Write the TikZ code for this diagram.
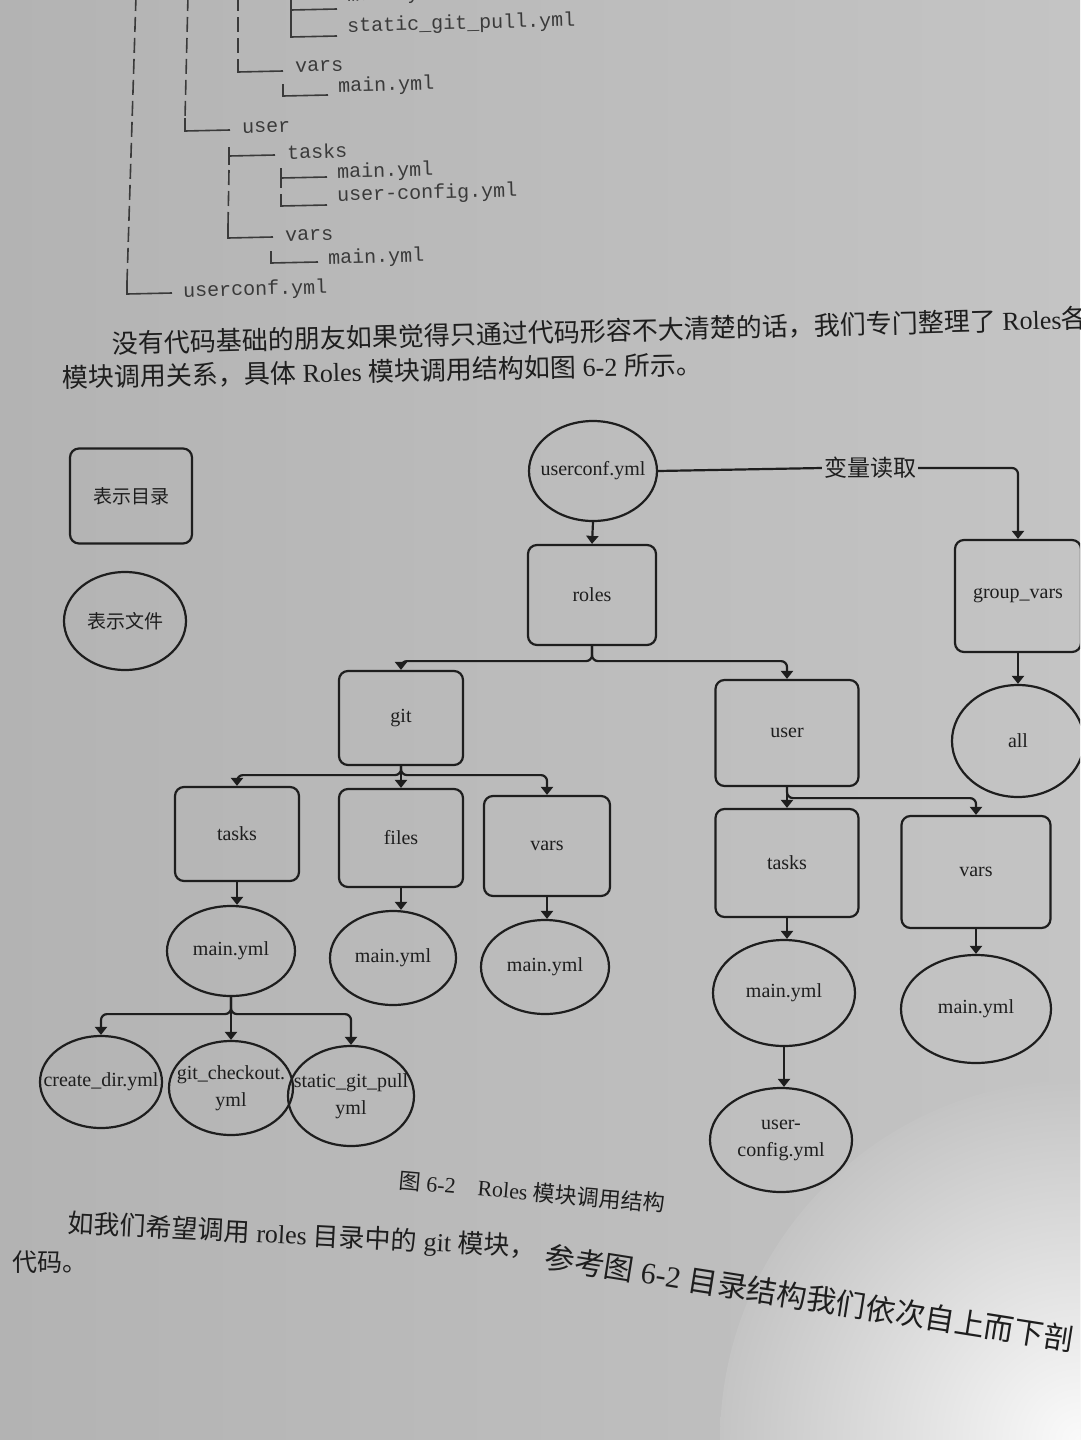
\documentclass[tikz,border=0pt]{standalone}
\usepackage{fontspec}
\setmainfont{Liberation Serif}
\setmonofont{Liberation Mono}
\newfontfamily\cjk{Noto Sans CJK SC}
\usetikzlibrary{shapes.geometric,arrows.meta}
\definecolor{paperL}{HTML}{B3B3B3}
\definecolor{paperR}{HTML}{C4C4C4}
\definecolor{ink}{HTML}{1E1E1E}
\definecolor{treeink}{HTML}{3A3A3A}
\newcommand\zb[1]{\makebox[0pt][c]{#1}}
\newcommand\lblfont{\fontsize{20}{27}\selectfont}
\begin{document}
\begin{tikzpicture}[x=1pt,y=-1pt,
  dirbox/.style={draw=ink,line width=2.2pt,rounded corners=9pt,inner sep=0pt,font=\lblfont,text=ink},
  filebox/.style={ellipse,draw=ink,line width=2.2pt,inner sep=0pt,font=\lblfont,text=ink,align=center},
  sz/.style 2 args={minimum width=#1,minimum height=#2},
  conn/.style={draw=ink,line width=2.2pt,rounded corners=6pt},
  arr/.style={conn,-{Triangle[width=12pt,length=8pt]}},
  treeln/.style={draw=treeink,line width=1.6pt},
  treedash/.style={treeln,dash pattern=on 15pt off 6pt},
  treetxt/.style={anchor=west,font=\ttfamily\fontsize{20}{20}\selectfont,text=treeink,inner sep=0pt,rotate=1.5},
  body/.style={anchor=west,inner sep=0pt,text=ink,font=\fontsize{26}{26}\selectfont},
  zhlbl/.style={font=\cjk\fontsize{19}{19}\selectfont,text=ink}
]
\useasboundingbox (0,0) rectangle (1080,1440);
\clip (0,0) rectangle (1080,1440);
\shade[left color=paperL,right color=paperR] (0,0) rectangle (1080,1440);
\shade[inner color=white!92!paperR,outer color=paperR] (1080,1440) circle (360);

% ---------- directory tree (top) ----------
\draw[treedash] (136,-4) -- (127,282);
\draw[treeln] (127,282) -- (127,294) -- (172,293);
\draw[treedash] (188,-4) -- (185,118);
\draw[treeln] (185,118) -- (185,131) -- (230,130);
\draw[treedash] (238,-4) -- (238,60);
\draw[treeln] (238,60) -- (238,72) -- (283,71);
\draw[treeln] (291,-5) -- (291,37) -- (337,36);
\draw[treeln] (291,10) -- (337,9);
\draw[treeln] (283,84) -- (283,96) -- (328,95);
\draw[treeln] (229,147) -- (229,165);
\draw[treeln] (229,156) -- (275,155);
\draw[treedash] (229,170) -- (228,226);
\draw[treeln] (228,226) -- (228,238) -- (273,237);
\draw[treeln] (281,168) -- (281,188);
\draw[treeln] (281,178) -- (327,177);
\draw[treeln] (281,194) -- (281,206) -- (327,205);
\draw[treeln] (271,251) -- (271,263) -- (318,262);
\node[treetxt] (t1) at (347,-4) {main.yml};
\node[treetxt] (t2) at (347,27) {static\_git\_pull.yml};
\node[treetxt] (t3) at (295,67) {vars};
\node[treetxt] (t4) at (338,87) {main.yml};
\node[treetxt] (t5) at (242,128) {user};
\node[treetxt] (t6) at (287,152) {tasks};
\node[treetxt] (t7) at (337,173) {main.yml};
\node[treetxt] (t8) at (337,196) {user-config.yml};
\node[treetxt] (t9) at (285,236) {vars};
\node[treetxt] (t10) at (328,259) {main.yml};
\node[treetxt] (t11) at (183,292) {userconf.yml};

% ---------- paragraph ----------
\node[body,rotate=1.5] (p1) at (112,344) {{\cjk 没有代码基础的朋友如果觉得只通过代码形容不大清楚的话，我们专门整理了} Roles{\cjk 各}};
\node[body,rotate=1.2] (p2) at (62,378) {{\cjk 模块调用关系，具体} Roles {\cjk 模块调用结构如图} 6-2 {\cjk 所示。}};

% ---------- legend ----------
\node[dirbox,sz={122pt}{95pt},zhlbl] (lgdir) at (131,496) {表示目录};
\node[filebox,sz={122pt}{98pt},zhlbl] (lgfile) at (125,621) {表示文件};

% ---------- diagram nodes ----------
\node[filebox,sz={128pt}{100pt}] (uc) at (593,471) {\zb{userconf.yml}};
\node[dirbox,sz={128pt}{100pt}] (roles) at (592,595) {roles};
\node[font=\cjk\fontsize{23}{23}\selectfont,text=ink,inner sep=2pt] (vlbl) at (870,468) {变量读取};
\node[dirbox,sz={126pt}{112pt}] (gv) at (1018,596) {group\_vars};
\node[filebox,sz={132pt}{112pt}] (all) at (1018,741) {all};

\node[dirbox,sz={124pt}{94pt}] (git) at (401,718) {git};
\node[dirbox,sz={143pt}{106pt}] (user) at (787,733) {user};

\node[dirbox,sz={124pt}{94pt}] (gtasks) at (237,834) {tasks};
\node[dirbox,sz={124pt}{98pt}] (gfiles) at (401,838) {files};
\node[dirbox,sz={126pt}{100pt}] (gvars) at (547,846) {vars};

\node[filebox,sz={128pt}{90pt}] (gtmain) at (231,951) {main.yml};
\node[filebox,sz={126pt}{94pt}] (gfmain) at (393,958) {main.yml};
\node[filebox,sz={128pt}{94pt}] (gvmain) at (545,967) {main.yml};

\node[filebox,sz={122pt}{92pt}] (cdir) at (101,1082) {\zb{create\_dir.yml}};
\node[filebox,sz={124pt}{94pt}] (gco) at (231,1088) {\zb{git\_checkout.}\\\zb{yml}};
\node[filebox,sz={126pt}{100pt}] (sgp) at (351,1096) {\zb{static\_git\_pull}\\\zb{yml}};

\node[dirbox,sz={143pt}{108pt}] (utasks) at (787,863) {tasks};
\node[dirbox,sz={149pt}{112pt}] (uvars) at (976,872) {vars};
\node[filebox,sz={142pt}{106pt}] (utmain) at (784,993) {main.yml};
\node[filebox,sz={150pt}{108pt}] (uvmain) at (976,1009) {main.yml};
\node[filebox,sz={142pt}{104pt}] (ucfg) at (781,1140) {\zb{user-}\\\zb{config.yml}};

% ---------- connectors ----------
\draw[arr] (uc.south) -- (roles.north);
\draw[conn] (uc.east) -- (vlbl.west);
\draw[arr] (vlbl.east) -| (gv.north);
\draw[arr] (gv.south) -- (all.north);

\draw[arr] (roles.south) -- ++(0,15) -| (git.north);
\draw[arr] (roles.south) -- ++(0,15) -| (user.north);

\draw[arr] (git.south) -- ++(0,9) -| (gtasks.north);
\draw[arr] (git.south) -- (gfiles.north);
\draw[arr] (git.south) -- ++(0,9) -| (gvars.north);

\draw[arr] (gtasks.south) -- (gtasks.south |- gtmain.north);
\draw[arr] (gfiles.south) -- (gfiles.south |- gfmain.north);
\draw[arr] (gvars.south) -- (gvars.south |- gvmain.north);

\draw[arr] (gtmain.south) -- ++(0,17) -| (cdir.north);
\draw[arr] (gtmain.south) -- (gco.north);
\draw[arr] (gtmain.south) -- ++(0,17) -| (sgp.north);

\draw[arr] (user.south) -- (utasks.north);
\draw[arr] (user.south) -- ++(0,11) -| (uvars.north);
\draw[arr] (utasks.south) -- (utasks.south |- utmain.north);
\draw[arr] (uvars.south) -- (uvars.south |- uvmain.north);
\draw[arr] (utmain.south) -- (utmain.south |- ucfg.north);

% ---------- caption and text below ----------
\node[inner sep=0pt,text=ink,font=\fontsize{22}{22}\selectfont,rotate=-5] (cap) at (532,1192) {{\cjk 图} 6-2\quad Roles {\cjk 模块调用结构}};
\node[body,rotate=-3,font=\fontsize{26}{26}\selectfont] (p3a) at (68,1224) {{\cjk 如我们希望调用} roles {\cjk 目录中的} git {\cjk 模块，}};
\node[body,rotate=-9,font=\fontsize{30}{30}\selectfont] (p3b) at (545,1256) {{\cjk 参考图} 6-2 {\cjk 目录结构我们依次自上而下剖}};
\node[body,font=\fontsize{25}{25}\selectfont] (p4) at (12,1262) {\cjk 代码。};
\end{tikzpicture}
\end{document}
